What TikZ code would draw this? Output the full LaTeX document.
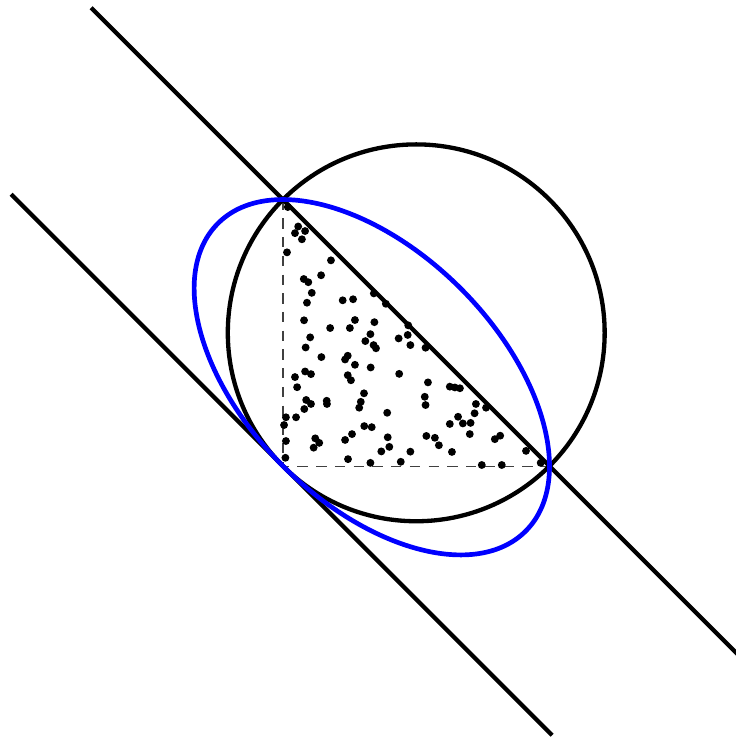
\documentclass[tikz,border=0pt]{standalone}
\usepackage{tikz}
\usetikzlibrary{calc}
\definecolor{EllipseBlue}{RGB}{0,0,255}

\begin{document}
\begin{tikzpicture}[x=5cm, y=5cm,
    bold/.style={line width=2.3pt},
    legline/.style={dash pattern=on 5.5pt off 4.5pt, line width=0.6pt, black!75},
    sample/.style={fill=black}]
  \useasboundingbox (-1.062,-1.028) rectangle (1.700,1.749);

  % triangle corners
  \coordinate (O) at (0,0);
  \coordinate (A) at (1,0);
  \coordinate (B) at (0,1);
  \coordinate (M) at ($(A)!0.5!(B)$);
  \coordinate (G) at (1/3,1/3);

  % legs of the triangle
  \draw[legline] (B) -- (O) -- (A);

  % random sample inside the triangle
  \foreach \u/\v in {0.018/0.972, 0.057/0.899, 0.083/0.882, 0.045/0.874, 0.071/0.851,
      0.015/0.802, 0.180/0.772, 0.143/0.716, 0.078/0.702, 0.095/0.690,
      0.108/0.650, 0.090/0.613, 0.224/0.622, 0.263/0.626, 0.341/0.648,
      0.386/0.609, 0.079/0.547, 0.270/0.548, 0.343/0.540, 0.177/0.518,
      0.251/0.518, 0.470/0.528, 0.102/0.483, 0.085/0.445, 0.328/0.495,
      0.309/0.469, 0.340/0.454, 0.349/0.442, 0.434/0.479, 0.468/0.492,
      0.478/0.454, 0.144/0.409, 0.243/0.414, 0.233/0.400, 0.270/0.380,
      0.329/0.370, 0.083/0.355, 0.105/0.345, 0.045/0.334, 0.243/0.341,
      0.255/0.322, 0.436/0.346, 0.053/0.296, 0.304/0.273, 0.087/0.248,
      0.105/0.233, 0.164/0.245, 0.165/0.233, 0.292/0.241, 0.286/0.219,
      0.080/0.214, 0.011/0.183, 0.004/0.154, 0.049/0.183, 0.391/0.200,
      0.305/0.150, 0.333/0.146, 0.121/0.104, 0.136/0.087, 0.115/0.069,
      0.011/0.094, 0.233/0.098, 0.259/0.120, 0.393/0.108, 0.399/0.072,
      0.369/0.055, 0.478/0.054, 0.009/0.031, 0.244/0.026, 0.328/0.012,
      0.442/0.016, 0.535/0.444, 0.544/0.314, 0.626/0.298, 0.645/0.295,
      0.664/0.292, 0.532/0.260, 0.535/0.229, 0.724/0.233, 0.762/0.219,
      0.657/0.185, 0.719/0.198, 0.675/0.160, 0.704/0.162, 0.626/0.158,
      0.701/0.120, 0.538/0.113, 0.570/0.106, 0.585/0.078, 0.795/0.101,
      0.815/0.114, 0.634/0.053, 0.912/0.057, 0.746/0.004, 0.821/0.004,
      0.967/0.012}
    \fill[sample] (\u,\v) circle [radius=2.1pt];

  % circumcircle
  \draw[bold] (M) circle [radius=0.7071];

  % supporting lines x+y=1 and x+y=0
  \draw[bold] (-0.720,1.720) -- (1.720,-0.720);
  \draw[bold] (-1.020,1.020) -- (1.010,-1.010);

  % Steiner circumellipse
  \draw[EllipseBlue, line width=2.5pt, rotate around={-45:(G)}]
    (G) ellipse [x radius=0.8165, y radius=0.4714];
\end{tikzpicture}
\end{document}
